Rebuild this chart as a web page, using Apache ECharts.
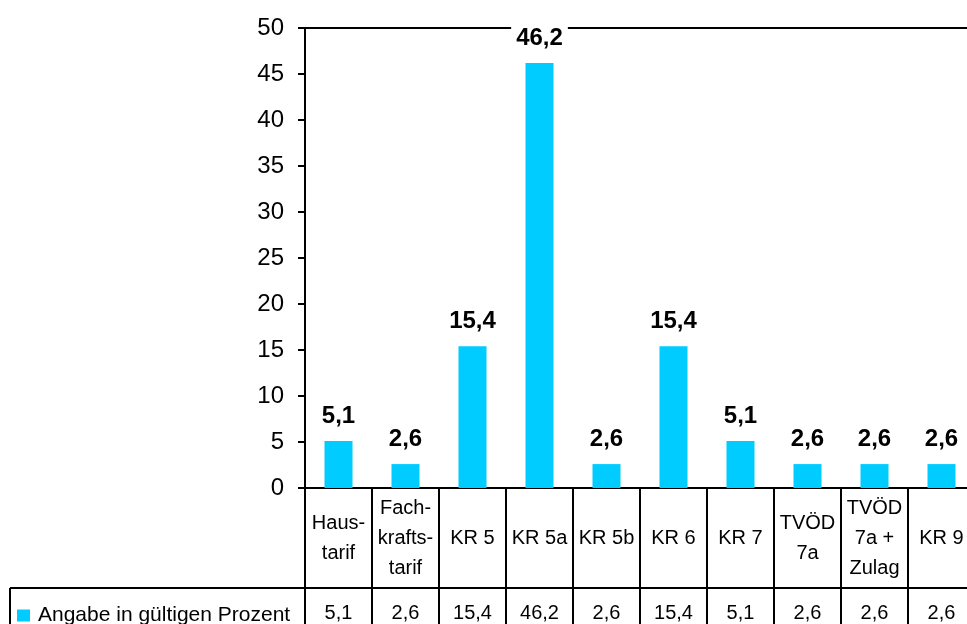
<!DOCTYPE html>
<html><head><meta charset="utf-8">
<script src="https://cdn.jsdelivr.net/npm/echarts@6/dist/echarts.min.js"></script>
<style>html,body{margin:0;padding:0;background:#fff;overflow:hidden}#c{width:980px;height:624px}</style>
</head><body><div id="c"></div>
<script>
const categories = ["Haus-\ntarif", "Fach-\nkrafts-\ntarif", "KR 5", "KR 5a", "KR 5b", "KR 6", "KR 7", "TVÖD\n7a", "TVÖD\n7a +\nZulag", "KR 9"];
const values = [5.1, 2.6, 15.4, 46.2, 2.6, 15.4, 5.1, 2.6, 2.6, 2.6];
const seriesName = "Angabe in gültigen Prozent";
const yMin = 0, yMax = 50, yStep = 5;

const FONT = "'Liberation Sans', Arial, sans-serif";
const fmt = v => v.toFixed(1).replace('.', ',');
const GL = 305, GT = 28, GH = 460, GW = 670;

const chart = echarts.init(document.getElementById('c'), null, {renderer: 'canvas'});
chart.setOption({
  animation: false,
  backgroundColor: '#fff',
  textStyle: {fontFamily: FONT},
  grid: {left: GL, top: GT, height: GH, width: GW},
  legend: {
    show: true, left: 17, top: 605, padding: 0, itemWidth: 13, itemHeight: 12, itemGap: 0,
    icon: 'rect', selectedMode: false,
    textStyle: {fontFamily: FONT, fontSize: 21, color: '#000', padding: [0, 0, 0, 3]},
    data: [seriesName]
  },
  xAxis: [
    {
      type: 'category', data: categories, position: 'bottom',
      axisLine: {show: true, lineStyle: {color: '#000', width: 2}},
      axisTick: {show: true, alignWithLabel: false, length: 140, lineStyle: {color: '#000', width: 2}},
      axisLabel: {interval: 0, fontFamily: FONT, fontSize: 20, color: '#000', lineHeight: 30,
        verticalAlign: 'middle', margin: 50, align: 'center'},
      splitLine: {show: false}
    },
    {
      type: 'category', data: categories, position: 'bottom', offset: 100,
      axisLine: {show: true, lineStyle: {color: '#000', width: 2}},
      axisTick: {show: false},
      axisLabel: {interval: 0, fontFamily: FONT, fontSize: 20, color: '#000',
        verticalAlign: 'middle', margin: 25, formatter: (v, i) => fmt(values[i])},
      splitLine: {show: false}
    },
    {
      type: 'category', data: categories, position: 'top',
      axisLine: {show: true, lineStyle: {color: '#000', width: 2}},
      axisTick: {show: false}, axisLabel: {show: false}, splitLine: {show: false}
    }
  ],
  yAxis: {
    type: 'value', min: yMin, max: yMax, interval: yStep,
    axisLine: {show: true, lineStyle: {color: '#000', width: 2}},
    axisTick: {show: true, length: 7, lineStyle: {color: '#000', width: 2}},
    axisLabel: {fontFamily: FONT, fontSize: 24, color: '#000', margin: 21},
    splitLine: {show: false}
  },
  series: [{
    name: seriesName, type: 'bar', data: values, barWidth: 28,
    itemStyle: {color: '#00CCFF'},
    label: {
      show: true, position: 'top', distance: 13,
      formatter: p => fmt(p.value),
      fontFamily: FONT, fontSize: 24, fontWeight: 'bold', color: '#000',
      backgroundColor: '#fff', padding: [0, 5, 0, 5]
    }
  }],
  graphic: [
    {type: 'line', shape: {x1: 10, y1: GT + GH + 100, x2: GL, y2: GT + GH + 100},
     style: {stroke: '#000', lineWidth: 2}},
    {type: 'line', shape: {x1: 10, y1: GT + GH + 100, x2: 10, y2: 640},
     style: {stroke: '#000', lineWidth: 2}}
  ]
});
</script></body></html>
